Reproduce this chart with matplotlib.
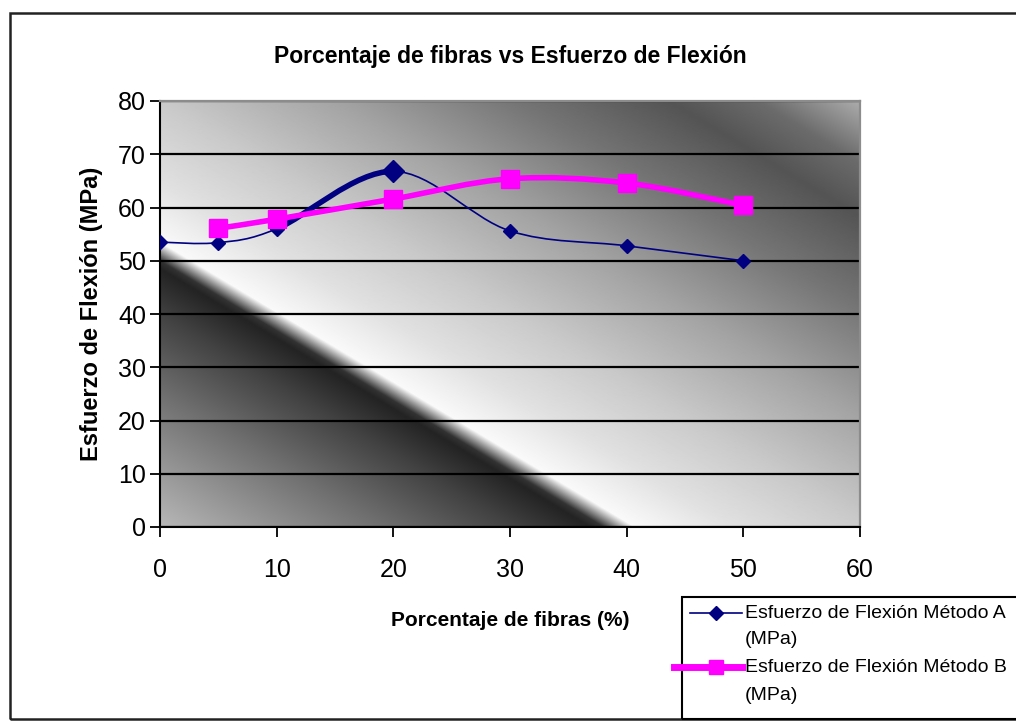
import numpy as np
import matplotlib
matplotlib.use('Agg')
import matplotlib.pyplot as plt
from matplotlib.path import Path
from matplotlib.patches import PathPatch, Rectangle
from matplotlib.lines import Line2D

# data
fibras_a = [0, 5, 10, 20, 30, 40, 50]
esfuerzo_a = [53.5, 53.4, 56.0, 66.8, 55.6, 52.8, 50.0]
fibras_b = [5, 10, 20, 30, 40, 50]
esfuerzo_b = [56.1, 57.8, 61.6, 65.4, 64.6, 60.4]
label_a = 'Esfuerzo de Flexión Método A\n(MPa)'
label_b = 'Esfuerzo de Flexión Método B\n(MPa)'

FONT = ['Liberation Sans Narrow', 'Liberation Sans', 'DejaVu Sans']
NAVY = '#000080'
PINK = '#FF00FF'


def smooth_path(xs, ys):
    '''Excel-like smoothed line: cubic Bezier through every point.'''
    pts = np.column_stack([xs, ys]).astype(float)
    n = len(pts)
    verts = [pts[0]]
    codes = [Path.MOVETO]
    for i in range(n - 1):
        p0 = pts[max(i - 1, 0)]
        p1 = pts[i]
        p2 = pts[i + 1]
        p3 = pts[min(i + 2, n - 1)]
        verts += [p1 + (p2 - p0) / 6, p2 - (p3 - p1) / 6, p2]
        codes += [Path.CURVE4] * 3
    return Path(verts, codes)


fig = plt.figure(figsize=(10.16, 7.21), dpi=100)
ax = fig.add_axes([160 / 1016, 1 - 527 / 721, 700 / 1016, 426 / 721])

# grey diagonal gradient fill of the plot area
gx, gy = np.meshgrid(np.linspace(0, 60, 700), np.linspace(0, 80, 430))
tt = gx / 38 + gy / 50
t_stops = [0, 0.5, 0.8, 0.97, 1.0, 1.07, 1.3, 1.6, 2.0, 2.4, 2.75, 2.95, 3.2]
g_stops = [0.72, 0.44, 0.26, 0.14, 0.2, 0.98, 0.88, 0.79, 0.64, 0.46, 0.33, 0.42, 0.7]
ax.imshow(np.interp(tt, t_stops, g_stops), cmap='gray', vmin=0, vmax=1,
          extent=[0, 60, 0, 80], origin='lower', aspect='auto', zorder=0,
          interpolation='bilinear')

# series A: thin navy line, the stretch into the 20 % point drawn heavier
path_a = smooth_path(fibras_a, esfuerzo_a)
ax.add_patch(PathPatch(path_a, fill=False, edgecolor=NAVY, lw=1.2, zorder=3))
heavy = Path(path_a.vertices[6:10], [Path.MOVETO] + [Path.CURVE4] * 3)
ax.add_patch(PathPatch(heavy, fill=False, edgecolor=NAVY, lw=4, zorder=3))
ax.plot(fibras_a, esfuerzo_a, ls='none', marker='D', ms=7, color=NAVY, zorder=4)
ax.plot(fibras_a[3], esfuerzo_a[3], ls='none', marker='D', ms=11, color=NAVY, zorder=4)

# series B: thick magenta line
ax.add_patch(PathPatch(smooth_path(fibras_b, esfuerzo_b), fill=False,
                       edgecolor=PINK, lw=4, zorder=5))
ax.plot(fibras_b, esfuerzo_b, ls='none', marker='s', ms=13, color=PINK, zorder=6)

ax.set_xlim(0, 60)
ax.set_ylim(0, 80)
ax.set_xticks(range(0, 61, 10))
ax.set_yticks(range(0, 81, 10))
ax.set_axisbelow(True)
ax.yaxis.grid(True, color='black', lw=1.6)
ax.tick_params(direction='out', length=7, width=1.3, colors='black')
ax.tick_params(axis='x', pad=15)
ax.tick_params(axis='y', pad=3)
for lab in ax.get_xticklabels() + ax.get_yticklabels():
    lab.set_family(FONT)
    lab.set_fontsize(18)
for side in ('left', 'bottom'):
    ax.spines[side].set_linewidth(1.5)
for side in ('top', 'right'):
    ax.spines[side].set_color('#8c8c8c')
    ax.spines[side].set_linewidth(1.6)

ax.set_title('Porcentaje de fibras vs Esfuerzo de Flexión', family=FONT,
             fontsize=16.5, fontweight='bold', pad=0, y=1 + 44 / 426, va='center')
ax.set_xlabel('Porcentaje de fibras (%)', family=FONT, fontsize=15,
              fontweight='bold')
ax.xaxis.set_label_coords(350 / 700, -(620 - 527) / 426)
ax.xaxis.label.set_va('center')
ax.set_ylabel('Esfuerzo de Flexión (MPa)', family=FONT, fontsize=17,
              fontweight='bold')
ax.yaxis.set_label_coords(-(160 - 92) / 700, 0.5)
ax.yaxis.label.set_va('center')

# outer chart border
fig.add_artist(Rectangle((10 / 1016, 2 / 721), 1.1, 706 / 721, fill=False,
                         edgecolor='#222222', lw=1.8, transform=fig.transFigure))

# legend box, laid out the way the spreadsheet did it
fig.add_artist(Rectangle((682 / 1016, 2 / 721), 1.0, (719 - 597) / 721, fill=False,
                         edgecolor='black', lw=1.5, transform=fig.transFigure))
for lab, rows, col, lw, mk, ms, x0 in [(label_a, (613, 640), NAVY, 1.2, 'D', 7, 690),
                                       (label_b, (667, 695), PINK, 5, 's', 10, 674)]:
    yf = 1 - rows[0] / 721
    fig.add_artist(Line2D([x0 / 1016, 742 / 1016], [yf, yf], color=col, lw=lw,
                          transform=fig.transFigure))
    fig.add_artist(Line2D([716 / 1016], [yf], color=col, marker=mk, ms=ms,
                          transform=fig.transFigure))
    for line, y in zip(lab.split('\n'), rows):
        fig.text(745 / 1016, 1 - y / 721, line, family=FONT, fontsize=14,
                 va='center')

fig.savefig('out.png', dpi=100)
